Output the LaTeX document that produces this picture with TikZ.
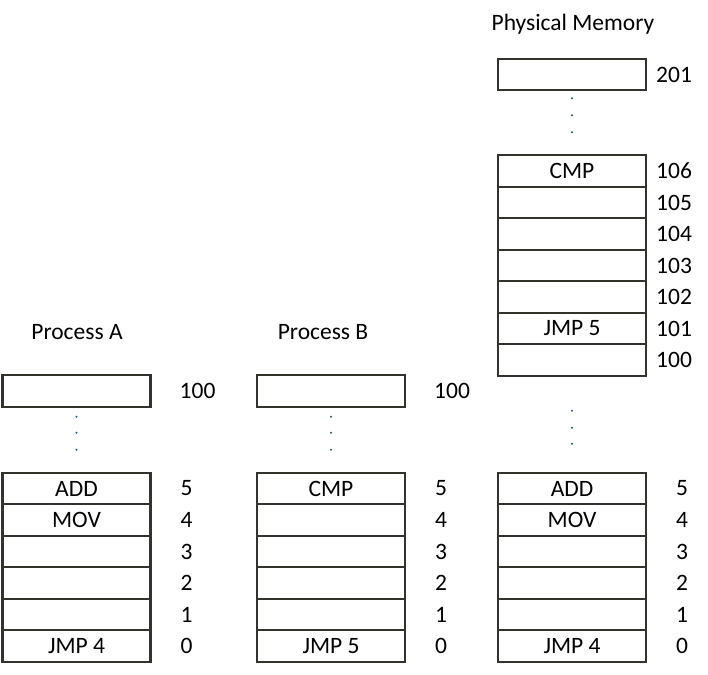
\documentclass[tikz,border=0pt]{standalone}
\usepackage{fontspec}
\setmainfont{Carlito}
\usepackage{tikz}
\usetikzlibrary{positioning}

\definecolor{cellline}{RGB}{52,50,45}
\definecolor{dotblue}{RGB}{40,80,150}

\tikzset{
    memcell/.style={draw=cellline, line width=2.4bp, minimum width=148bp,
        minimum height=31.5bp, outer sep=0pt, inner sep=0pt,
        font=\fontsize{23.5bp}{28bp}\selectfont},
    addr/.style={inner sep=0pt, font=\fontsize{23.5bp}{28bp}\selectfont},
    heading/.style={anchor=base, inner sep=0pt, font=\fontsize{23.5bp}{28bp}\selectfont},
    memdot/.style={fill=dotblue}
}

\begin{document}
\begin{tikzpicture}[x=1bp, y=1bp]
            \useasboundingbox (0,0) rectangle (708,-675);

            % Process A
            \node[heading] (ProcA) at (77,-339) {Process A};
            \node[memcell] (aTop) at (76.5,-391) {};
            \node[memcell] (a5) at (76.5,-488.5) {ADD};
            \node[memcell, below=0pt of a5] (a4) {MOV};
            \node[memcell, below=0pt of a4] (a3) {};
            \node[memcell, below=0pt of a3] (a2) {};
            \node[memcell, below=0pt of a2] (a1) {};
            \node[memcell, below=0pt of a1] (a0) {JMP 4};
            \node[addr, right=29bp of aTop] (aTopNum) {100};
            \node[addr, right=30bp of a5] (a5Num) {5};
            \node[addr, right=30bp of a4] (a4Num) {4};
            \node[addr, right=30bp of a3] (a3Num) {3};
            \node[addr, right=30bp of a2] (a2Num) {2};
            \node[addr, right=30bp of a1] (a1Num) {1};
            \node[addr, right=30bp of a0] (a0Num) {0};
            \fill[memdot] ([yshift=-10bp]aTop.south) circle (1.1bp);
            \fill[memdot] ([yshift=-26bp]aTop.south) circle (1.1bp);
            \fill[memdot] ([yshift=-43bp]aTop.south) circle (1.1bp);

            % Process B
            \node[heading] (ProcB) at (323,-339) {Process B};
            \node[memcell] (bTop) at (331,-391) {};
            \node[memcell] (b5) at (331,-488.5) {CMP};
            \node[memcell, below=0pt of b5] (b4) {};
            \node[memcell, below=0pt of b4] (b3) {};
            \node[memcell, below=0pt of b3] (b2) {};
            \node[memcell, below=0pt of b2] (b1) {};
            \node[memcell, below=0pt of b1] (b0) {JMP 5};
            \node[addr, right=29bp of bTop] (bTopNum) {100};
            \node[addr, right=30bp of b5] (b5Num) {5};
            \node[addr, right=30bp of b4] (b4Num) {4};
            \node[addr, right=30bp of b3] (b3Num) {3};
            \node[addr, right=30bp of b2] (b2Num) {2};
            \node[addr, right=30bp of b1] (b1Num) {1};
            \node[addr, right=30bp of b0] (b0Num) {0};
            \fill[memdot] ([yshift=-10bp]bTop.south) circle (1.1bp);
            \fill[memdot] ([yshift=-26bp]bTop.south) circle (1.1bp);
            \fill[memdot] ([yshift=-43bp]bTop.south) circle (1.1bp);

            % Physical Memory
            \node[heading] (PhysMem) at (573,-31) {Physical Memory};
            \node[memcell] (pTop) at (572,-74.5) {};
            \node[memcell] (p106) at (572,-171) {CMP};
            \node[memcell, below=0pt of p106] (p105) {};
            \node[memcell, below=0pt of p105] (p104) {};
            \node[memcell, below=0pt of p104] (p103) {};
            \node[memcell, below=0pt of p103] (p102) {};
            \node[memcell, below=0pt of p102] (p101) {JMP 5};
            \node[memcell, below=0pt of p101] (p100) {};
            \node[memcell] (p5) at (572,-488.5) {ADD};
            \node[memcell, below=0pt of p5] (p4) {MOV};
            \node[memcell, below=0pt of p4] (p3) {};
            \node[memcell, below=0pt of p3] (p2) {};
            \node[memcell, below=0pt of p2] (p1) {};
            \node[memcell, below=0pt of p1] (p0) {JMP 4};
            \node[addr, right=10bp of pTop] (pTopNum) {201};
            \node[addr, right=10bp of p106] (p106Num) {106};
            \node[addr, right=10bp of p105] (p105Num) {105};
            \node[addr, right=10bp of p104] (p104Num) {104};
            \node[addr, right=10bp of p103] (p103Num) {103};
            \node[addr, right=10bp of p102] (p102Num) {102};
            \node[addr, right=10bp of p101] (p101Num) {101};
            \node[addr, right=10bp of p100] (p100Num) {100};
            \node[addr, right=30bp of p5] (p5Num) {5};
            \node[addr, right=30bp of p4] (p4Num) {4};
            \node[addr, right=30bp of p3] (p3Num) {3};
            \node[addr, right=30bp of p2] (p2Num) {2};
            \node[addr, right=30bp of p1] (p1Num) {1};
            \node[addr, right=30bp of p0] (p0Num) {0};
            \fill[memdot] ([yshift=-8bp]pTop.south) circle (1.1bp);
            \fill[memdot] ([yshift=-25bp]pTop.south) circle (1.1bp);
            \fill[memdot] ([yshift=-42bp]pTop.south) circle (1.1bp);
            \fill[memdot] ([yshift=-35bp]p100.south) circle (1.1bp);
            \fill[memdot] ([yshift=-52bp]p100.south) circle (1.1bp);
            \fill[memdot] ([yshift=-68bp]p100.south) circle (1.1bp);
        \end{tikzpicture}
\end{document}
